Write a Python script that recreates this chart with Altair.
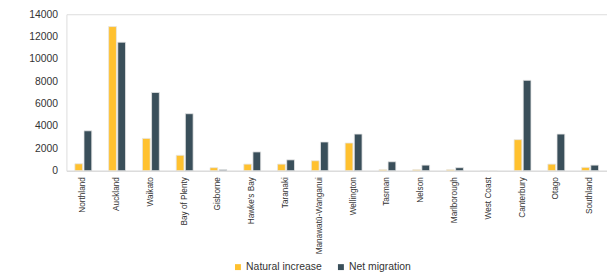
import altair as alt
import pandas as pd

regions = ["Northland", "Auckland", "Waikato", "Bay of Plenty", "Gisborne", "Hawke's Bay",
           "Taranaki", "Manawatū-Wanganui", "Wellington", "Tasman", "Nelson", "Marlborough",
           "West Coast", "Canterbury", "Otago", "Southland"]
natural_increase = [620, 12900, 2890, 1380, 270, 590, 590, 890, 2480, 90, 90, 90, 0, 2780, 590, 300]
net_migration = [3570, 11500, 7000, 5100, 90, 1680, 970, 2570, 3280, 800, 500, 270, 0, 8090, 3280, 500]
series = ["Natural increase", "Net migration"]
colors = ["#FFC12F", "#3A4F5A"]
y_ticks = [0, 2000, 4000, 6000, 8000, 10000, 12000, 14000]

rows = []
for r, a, b in zip(regions, natural_increase, net_migration):
    rows.append({"Region": r, "Series": series[0], "Value": a})
    rows.append({"Region": r, "Series": series[1], "Value": b})
df = pd.DataFrame(rows)

FONT = "Liberation Sans"

chart = alt.Chart(df).mark_bar(stroke="#e6e6e6", strokeWidth=0.8).encode(
    x=alt.X("Region:N", sort=regions, title=None,
            scale=alt.Scale(paddingInner=0.5, paddingOuter=0.25),
            axis=alt.Axis(labelAngle=-90, labelFontSize=8.3, labelColor="#333333",
                          labelFont=FONT, ticks=False, labelPadding=6,
                          domainColor="#d9d9d9", domainWidth=1, labelLimit=200)),
    xOffset=alt.XOffset("Series:N", sort=series, scale=alt.Scale(paddingInner=0.15)),
    y=alt.Y("Value:Q", title=None, scale=alt.Scale(domain=[0, 14000], nice=False),
            axis=alt.Axis(values=y_ticks, format="d", grid=False, domain=False, ticks=False,
                          labelFontSize=10.5, labelColor="#333333", labelFont=FONT,
                          labelPadding=9)),
    color=alt.Color("Series:N", sort=series, title=None,
                    scale=alt.Scale(domain=series, range=colors),
                    legend=alt.Legend(orient="none", legendX=168, legendY=250,
                                      direction="horizontal", symbolType="square",
                                      symbolSize=36, symbolStrokeWidth=0,
                                      labelFontSize=10.5, labelColor="#333333",
                                      labelFont=FONT, columnPadding=14, labelOffset=3)),
).properties(
    width=546, height=158,
    autosize=alt.AutoSizeParams(type="none"),
    padding={"left": 59, "top": 5, "right": 0, "bottom": 103},
).configure_view(stroke=None).configure(background="white")

chart.save("out.html", embed_options={"renderer": "svg", "actions": False})
